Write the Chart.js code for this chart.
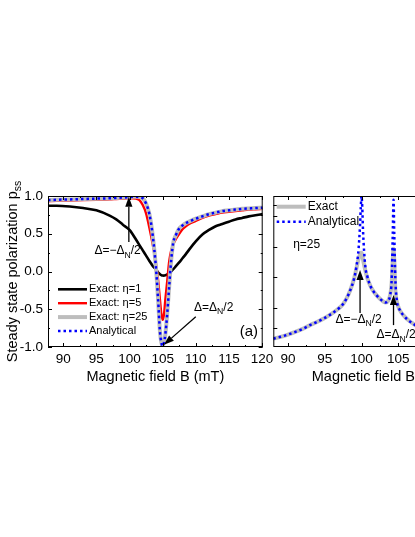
<!DOCTYPE html>
<html>
<head>
<meta charset="utf-8">
<script src="https://cdn.jsdelivr.net/npm/chart.js@4.4.1/dist/chart.umd.min.js"></script>
<style>
html, body { margin: 0; padding: 0; background: #fff; overflow: hidden; width: 415px; height: 537px; }
canvas { position: absolute; top: 0; }
#left { left: 0; }
#right { left: 262px; }
</style>
</head>
<body>
<canvas id="left" width="280" height="400"></canvas>
<canvas id="right" width="240" height="400"></canvas>
<script>
// panel (a): field values (mT) and polarization for each curve
const fieldL = [87.7, 89, 91, 93, 95, 97, 98, 99, 100, 100.5, 101, 101.5, 102, 102.5, 103, 103.5, 104, 104.3, 104.6, 104.8,
    105, 105.2, 105.4, 105.7, 106, 106.3, 106.6, 107, 107.5, 108, 108.5, 109, 110, 111, 112, 113, 114, 115, 116, 117, 118, 119, 120.1]
const pEta1 = [0.87, 0.87, 0.86, 0.84, 0.81, 0.74, 0.69, 0.62, 0.55, 0.49, 0.42, 0.35, 0.28, 0.21, 0.14, 0.075, 0.025, -0.01, -0.035, -0.047,
    -0.054, -0.055, -0.05, -0.04, -0.022, 0.002, 0.03, 0.07, 0.12, 0.175, 0.23, 0.29, 0.40, 0.49, 0.55, 0.60, 0.63, 0.66, 0.69, 0.71, 0.73, 0.745, 0.76]
const pEta5 = [0.93, 0.935, 0.94, 0.945, 0.95, 0.955, 0.96, 0.965, 0.97, 0.97, 0.965, 0.945, 0.88, 0.77, 0.58, 0.36, 0.10, -0.10, -0.38, -0.56,
    -0.64, -0.57, -0.38, -0.12, 0.14, 0.28, 0.36, 0.43, 0.50, 0.56, 0.60, 0.63, 0.67, 0.71, 0.74, 0.76, 0.78, 0.79, 0.80, 0.81, 0.82, 0.825, 0.83]
const pEta25L = [0.945, 0.95, 0.955, 0.96, 0.965, 0.97, 0.975, 0.98, 0.985, 0.99, 0.99, 0.985, 0.97, 0.90, 0.76, 0.48, 0.04, -0.35, -0.80, -0.94,
    -0.99, -0.94, -0.84, -0.55, -0.18, 0.16, 0.38, 0.48, 0.57, 0.61, 0.64, 0.66, 0.70, 0.73, 0.76, 0.78, 0.80, 0.81, 0.82, 0.83, 0.835, 0.84, 0.845]
const pAnalyticL = [0.945, 0.95, 0.955, 0.96, 0.965, 0.97, 0.975, 0.98, 0.985, 0.99, 0.99, 0.985, 0.97, 0.90, 0.76, 0.48, 0.04, -0.35, -0.80, -0.94,
    -0.99, -0.94, -0.84, -0.55, -0.18, 0.16, 0.38, 0.48, 0.57, 0.61, 0.64, 0.66, 0.70, 0.73, 0.76, 0.78, 0.80, 0.81, 0.82, 0.83, 0.835, 0.84, 0.845]

// right panel, eta = 25
const fieldR = [88, 89, 90, 91, 92, 93, 94, 95, 96, 97, 97.5, 98, 98.5, 99, 99.3, 99.6, 99.8, 99.9, 100, 100.1, 100.2, 100.5, 100.8,
    101.2, 101.6, 102, 102.5, 103, 103.3, 103.6, 103.9, 104.1, 104.25, 104.35, 104.45, 104.6, 104.8, 105.2, 105.7, 106.3, 107, 107.6, 108.2]
const pEta25R = [-0.89, -0.865, -0.835, -0.80, -0.76, -0.71, -0.665, -0.615, -0.555, -0.48, -0.43, -0.35, -0.24, -0.09, 0.04, 0.17, 0.23, 0.25, 0.25, 0.22, 0.16, 0.02, -0.09,
    -0.19, -0.26, -0.31, -0.36, -0.40, -0.41, -0.39, -0.31, -0.15, 0.15, 0.30, 0.15, -0.25, -0.40, -0.51, -0.58, -0.64, -0.69, -0.73, -0.76]
const pAnalyticR = [-0.89, -0.865, -0.835, -0.80, -0.76, -0.71, -0.665, -0.615, -0.555, -0.48, -0.43, -0.35, -0.24, -0.09, 0.06, 0.30, 0.62, 0.85, 1.0, 0.85, 0.55, 0.08, -0.07,
    -0.19, -0.26, -0.31, -0.36, -0.40, -0.41, -0.39, -0.31, -0.10, 0.50, 0.95, 0.50, -0.10, -0.38, -0.51, -0.58, -0.64, -0.69, -0.73, -0.76]

const xTicksL = [90, 95, 100, 105, 110, 115, 120]
const xTicksR = [90, 95, 100, 105, 110, 115]
const yTicksL = [-1.0, -0.5, 0.0, 0.5, 1.0]
const yTicksR = [0.88, 0.73, 0.33, -0.07, -0.49, -0.75]

const FONT = "'Liberation Sans', Arial, sans-serif"
Chart.defaults.font.family = FONT
Chart.defaults.color = '#000'

const pts = (xs, ys) => xs.map((x, i) => ({ x, y: ys[i] }))

// text with optional subscript parts: [[text, isSub], ...]
const richText = (ctx, parts, x, y, size, align) => {
    const sub = size * 0.72
    let w = 0
    parts.forEach(([t, s]) => { ctx.font = (s ? sub : size) + 'px ' + FONT; w += ctx.measureText(t).width })
    let cx = align === 'center' ? x - w / 2 : align === 'right' ? x - w : x
    ctx.textAlign = 'left'
    parts.forEach(([t, s]) => {
        ctx.font = (s ? sub : size) + 'px ' + FONT
        ctx.fillText(t, cx, s ? y + size * 0.28 : y)
        cx += ctx.measureText(t).width
    })
}

const arrow = (ctx, x1, y1, x2, y2) => {
    const a = Math.atan2(y2 - y1, x2 - x1)
    const L = 10, H = 3.6
    const bx = x2 - L * Math.cos(a), by = y2 - L * Math.sin(a)
    ctx.beginPath(); ctx.moveTo(x1, y1); ctx.lineTo(bx, by); ctx.lineWidth = 1.3; ctx.stroke()
    ctx.beginPath()
    ctx.moveTo(x2, y2)
    ctx.lineTo(bx + H * Math.sin(a), by - H * Math.cos(a))
    ctx.lineTo(bx - H * Math.sin(a), by + H * Math.cos(a))
    ctx.closePath(); ctx.fill()
}

const deco = {
    id: 'deco',
    afterDatasetsDraw(chart, args, o) {
        const { ctx, chartArea: a, scales: { x, y } } = chart
        ctx.save()
        ctx.strokeStyle = '#000'; ctx.fillStyle = '#000'; ctx.lineWidth = 1
        ctx.strokeRect(a.left + 0.5, a.top + 0.5, a.width - 1, a.height - 1)
        const tk = (x1, y1, x2, y2) => { ctx.beginPath(); ctx.moveTo(x1, y1); ctx.lineTo(x2, y2); ctx.stroke() }
        const xMajor = o.xTicks, yMajor = o.yTicks
        const xMinor = []
        for (let v = xMajor[0] - 5; v <= xMajor[xMajor.length - 1] + 5; v += 2.5) xMinor.push(v)
        xMinor.forEach(v => {
            const px = Math.round(x.getPixelForValue(v)) + 0.5
            if (px < a.left || px > a.right) return
            const len = xMajor.includes(v) ? 4 : 2
            tk(px, a.bottom, px, a.bottom - len); tk(px, a.top, px, a.top + len)
        })
        yMajor.forEach(v => {
            const py = Math.round(y.getPixelForValue(v)) + 0.5
            tk(a.left, py, a.left + 4, py); tk(a.right, py, a.right - 4, py)
        })
        if (o.yMinor) {
            for (let v = -0.75; v < 1; v += 0.5) {
                const py = Math.round(y.getPixelForValue(v)) + 0.5
                tk(a.left, py, a.left + 2, py); tk(a.right, py, a.right - 2, py)
            }
        }
        // legend
        ctx.textBaseline = 'middle'
        o.legend.forEach((e, i) => {
            const ds = chart.data.datasets[e.ds]
            const ly = a.top + o.legendTop + i * o.legendGap
            ctx.save()
            ctx.strokeStyle = ds.borderColor; ctx.lineWidth = ds.borderWidth
            ctx.setLineDash(ds.borderDash || [])
            tk(a.left + o.legendX, ly, a.left + o.legendX + 29, ly)
            ctx.restore()
            richText(ctx, [[ds.label, false]], a.left + o.legendX + 31, ly, o.legendSize, 'left')
        })
        ctx.textBaseline = 'alphabetic'
        // arrows with labels
        o.notes.forEach(n => {
            arrow(ctx, x.getPixelForValue(n.from[0]), y.getPixelForValue(n.from[1]),
                x.getPixelForValue(n.to[0]), y.getPixelForValue(n.to[1]))
            richText(ctx, n.text, x.getPixelForValue(n.at[0]), y.getPixelForValue(n.at[1]) + 4, 12, 'center')
        })
        o.extra.forEach(t => {
            richText(ctx, t.text, x.getPixelForValue(t.at[0]), y.getPixelForValue(t.at[1]) + t.size * 0.35, t.size, t.align)
        })
        // axis titles
        richText(ctx, [['Magnetic field B (mT)', false]], (a.left + a.right) / 2, 381, 14.5, 'center')
        if (o.yTitle) {
            ctx.translate(17, (a.top + a.bottom) / 2)
            ctx.rotate(-Math.PI / 2)
            richText(ctx, [['Steady state polarization p', false], ['ss', true]], 0, 0, 14.5, 'center')
        }
        ctx.restore()
    }
}

const lineDs = (label, data, color, width, dash, order) => ({
    label, data, borderColor: color, borderWidth: width, borderDash: dash, order,
    pointRadius: 0, fill: false, cubicInterpolationMode: 'monotone'
})

const scalesFor = (xmin, xmax, xTicks, yWidth, showY) => ({
    x: {
        type: 'linear', min: xmin, max: xmax,
        grid: { display: false, drawTicks: false }, border: { display: false },
        ticks: { font: { size: 13.5 }, padding: 4, maxRotation: 0 },
        afterBuildTicks: s => { s.ticks = xTicks.map(v => ({ value: v })) },
        afterFit: s => { s.height = 53 }
    },
    y: {
        type: 'linear', min: -1, max: 1,
        grid: { display: false, drawTicks: false }, border: { display: false },
        ticks: { display: showY, font: { size: 13.5 }, padding: 5, callback: v => v.toFixed(1) },
        afterBuildTicks: s => { s.ticks = yTicksL.map(v => ({ value: v })) },
        afterFit: s => { s.width = yWidth }
    }
})

const sub = t => [t, true]
const txt = t => [t, false]

new Chart(document.querySelector('#left').getContext('2d'), {
    type: 'line',
    data: {
        datasets: [
            lineDs('Exact: η=1', pts(fieldL, pEta1), '#000000', 2.6, [], 3),
            lineDs('Exact: η=5', pts(fieldL, pEta5), '#ff0000', 2.4, [], 2),
            lineDs('Exact: η=25', pts(fieldL, pEta25L), '#bdbdbd', 4, [], 1),
            lineDs('Analytical', pts(fieldL, pAnalyticL), '#0000ff', 2.5, [2.5, 3], 0)
        ]
    },
    options: {
        responsive: false, animation: false,
        layout: { padding: { top: 196, right: 17.3, bottom: 0, left: 0 } },
        scales: scalesFor(87.7, 120.1, xTicksL, 48, true),
        plugins: {
            legend: { display: false }, tooltip: { enabled: false },
            deco: {
                xTicks: xTicksL, yTicks: yTicksL, yMinor: true, yTitle: true,
                legend: [{ ds: 0 }, { ds: 1 }, { ds: 2 }, { ds: 3 }],
                legendTop: 93.3, legendGap: 13.9, legendX: 10, legendSize: 11,
                notes: [
                    { from: [99.9, 0.39], to: [99.9, 0.99], at: [98.2, 0.28], text: [txt('Δ=−Δ'), sub('N'), txt('/2')] },
                    { from: [110.0, -0.60], to: [105.2, -0.97], at: [112.7, -0.47], text: [txt('Δ=Δ'), sub('N'), txt('/2')] }
                ],
                extra: [{ at: [119.4, -0.79], text: [txt('(a)')], size: 15, align: 'right' }]
            }
        }
    },
    plugins: [deco]
})

new Chart(document.querySelector('#right').getContext('2d'), {
    type: 'line',
    data: {
        datasets: [
            lineDs('Exact', pts(fieldR, pEta25R), '#bdbdbd', 4, [], 1),
            lineDs('Analytical', pts(fieldR, pAnalyticR), '#0000ff', 2.5, [2.5, 3], 0)
        ]
    },
    options: {
        responsive: false, animation: false,
        layout: { padding: { top: 196, right: 14, bottom: 0, left: 0 } },
        scales: scalesFor(88, 117.2, xTicksR, 11.3, false),
        plugins: {
            legend: { display: false }, tooltip: { enabled: false },
            deco: {
                xTicks: xTicksR, yTicks: yTicksR, yMinor: false, yTitle: false,
                legend: [{ ds: 0 }, { ds: 1 }],
                legendTop: 10.7, legendGap: 15, legendX: 3.4, legendSize: 12,
                notes: [
                    { from: [99.8, -0.55], to: [99.8, 0.02], at: [99.6, -0.63], text: [txt('Δ=−Δ'), sub('N'), txt('/2')] },
                    { from: [104.35, -0.71], to: [104.35, -0.31], at: [104.7, -0.83], text: [txt('Δ=Δ'), sub('N'), txt('/2')] }
                ],
                extra: [{ at: [90.7, 0.37], text: [txt('η=25')], size: 12, align: 'left' }]
            }
        }
    },
    plugins: [deco]
})
</script>
</body>
</html>
